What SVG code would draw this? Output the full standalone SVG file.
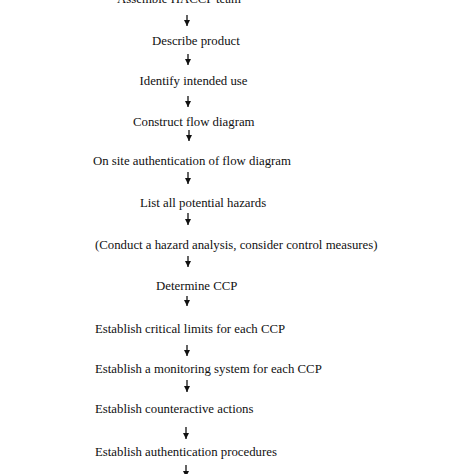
<svg xmlns="http://www.w3.org/2000/svg" width="474" height="474" viewBox="0 0 474 474">
<style>
text{font-family:"Liberation Serif","Times New Roman",serif;font-size:12.8px;fill:#111}
.c line{stroke:#111;stroke-width:1.3;marker-end:url(#ah)}
</style>
<defs>
<marker id="ah" viewBox="0 0 6 6" refX="6" refY="3" markerWidth="6.5" markerHeight="6.5" markerUnits="userSpaceOnUse" orient="auto">
<path d="M0,0 L6,3 L0,6 z" fill="#111"/>
</marker>
</defs>
<rect width="474" height="474" fill="#fff"/>
<g id="n1"><text x="117" y="3">Assemble HACCP team</text></g>
<g id="n2"><text x="152" y="44.5">Describe product</text></g>
<g id="n3"><text x="139.5" y="85">Identify intended use</text></g>
<g id="n4"><text x="133" y="125.5">Construct flow diagram</text></g>
<g id="n5"><text x="93" y="165">On site authentication of flow diagram</text></g>
<g id="n6"><text x="140" y="207">List all potential hazards</text></g>
<g id="n7"><text x="95" y="249">(Conduct a hazard analysis, consider control measures)</text></g>
<g id="n8"><text x="156" y="290">Determine CCP</text></g>
<g id="n9"><text x="95" y="333">Establish critical limits for each CCP</text></g>
<g id="n10"><text x="95" y="373">Establish a monitoring system for each CCP</text></g>
<g id="n11"><text x="95" y="413">Establish counteractive actions</text></g>
<g id="n12"><text x="95" y="455.5">Establish authentication procedures</text></g>
<g id="connectors" class="c">
<line x1="187" y1="15" x2="187" y2="26"/>
<line x1="188" y1="54" x2="188" y2="65"/>
<line x1="188" y1="96" x2="188" y2="107"/>
<line x1="189" y1="130" x2="189" y2="141"/>
<line x1="188" y1="172" x2="188" y2="184"/>
<line x1="188" y1="213" x2="188" y2="225"/>
<line x1="188" y1="256" x2="188" y2="267"/>
<line x1="187" y1="296" x2="187" y2="306"/>
<line x1="187" y1="345" x2="187" y2="356"/>
<line x1="187" y1="380" x2="187" y2="392"/>
<line x1="186" y1="427" x2="186" y2="439"/>
<line x1="186" y1="465" x2="186" y2="477"/>
</g>
</svg>
